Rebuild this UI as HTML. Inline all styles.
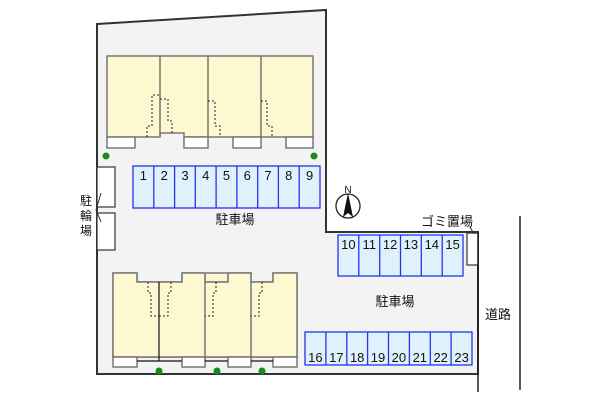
<!DOCTYPE html>
<html><head><meta charset="utf-8"><style>
html,body{margin:0;padding:0;background:#fff;width:600px;height:400px;overflow:hidden}
svg text{font-family:"Liberation Sans","Noto Sans CJK JP",sans-serif;fill:#111}
</style></head><body>
<svg width="600" height="400" viewBox="0 0 600 400" xmlns="http://www.w3.org/2000/svg">
<polygon points="97,24 326,10 326,232 478,232 478,374 97,374" fill="#f3f3f3" stroke="#333" stroke-width="2"/>
<!-- top building -->
<g stroke="#777" stroke-width="1.5">
<polygon points="107,56 313,56 313,137 184,137 184,133 160,133 160,137 107,137" fill="#fdf8d0"/>
<line x1="160" y1="56" x2="160" y2="137"/>
<line x1="208" y1="56" x2="208" y2="137"/>
<line x1="261" y1="56" x2="261" y2="137"/>
<rect x="107" y="137" width="28" height="11" fill="#fff"/>
<rect x="184" y="137" width="24" height="11" fill="#fff"/>
<rect x="233" y="137" width="28" height="11" fill="#fff"/>
<rect x="286" y="137" width="27" height="11" fill="#fff"/>
</g>
<g fill="none" stroke="#222" stroke-width="1" stroke-dasharray="2,2">
<polyline points="147,137 147,126 152,126 152,95 160,95"/>
<polyline points="160,99 168,99 168,121 172,121 172,133"/>
<polyline points="208,101 215,101 215,126 220,126 220,137"/>
<polyline points="261,101 267,101 267,126 272,126 272,137"/>
</g>
<circle cx="106" cy="156" r="3.5" fill="#1a8a1a"/>
<circle cx="314" cy="156" r="3.5" fill="#1a8a1a"/>
<!-- parking 1-9 -->
<g fill="#dff2fc" stroke="#2233ee" stroke-width="1.3">
<rect x="133" y="166" width="187" height="42"/>
</g>
<g stroke="#2233ee" stroke-width="1.3">
<line x1="153.8" y1="166" x2="153.8" y2="208"/><line x1="174.6" y1="166" x2="174.6" y2="208"/>
<line x1="195.3" y1="166" x2="195.3" y2="208"/><line x1="216.1" y1="166" x2="216.1" y2="208"/>
<line x1="236.9" y1="166" x2="236.9" y2="208"/><line x1="257.7" y1="166" x2="257.7" y2="208"/>
<line x1="278.4" y1="166" x2="278.4" y2="208"/><line x1="299.2" y1="166" x2="299.2" y2="208"/>
</g>
<g font-size="13" text-anchor="middle">
<text x="143.4" y="180">1</text><text x="164.2" y="180">2</text><text x="185" y="180">3</text>
<text x="205.7" y="180">4</text><text x="226.5" y="180">5</text><text x="247.3" y="180">6</text>
<text x="268" y="180">7</text><text x="288.8" y="180">8</text><text x="309.6" y="180">9</text>
</g>
<text x="235" y="224" font-size="13" text-anchor="middle">駐車場</text>
<!-- bike -->
<rect x="97" y="167" width="18" height="40" fill="#fff" stroke="#333" stroke-width="1.2"/>
<rect x="97" y="213" width="18" height="37" fill="#fff" stroke="#333" stroke-width="1.2"/>
<polyline points="101,193 96,210 101,222" fill="none" stroke="#333" stroke-width="1"/>
<g font-size="12" text-anchor="middle"><text x="86" y="205">駐</text><text x="86" y="220">輪</text><text x="86" y="235">場</text></g>
<!-- compass -->
<circle cx="348" cy="206" r="12" fill="#fff" stroke="#222" stroke-width="1.3"/>
<polygon points="348,193 343,217 348,213 353,217" fill="#111"/>
<text x="348" y="193" font-size="10" text-anchor="middle">N</text>
<!-- lower building -->
<g stroke="#777" stroke-width="1.5">
<polygon points="113,273 137,273 137,282 182,282 182,273 228,273 228,282 205,282 205,273 205,273 251,273 251,282 273,282 273,273 297,273 297,357 113,357" fill="#fdf8d0"/>
<polygon points="113,273 137,273 137,282 182,282 182,273 205,273 205,282 228,282 228,273 251,273 251,282 273,282 273,273 297,273 297,357 113,357" fill="#fdf8d0"/>
<line x1="205" y1="282" x2="205" y2="361"/>
<line x1="251" y1="282" x2="251" y2="361"/>
<rect x="113" y="357" width="24" height="10" fill="#fff"/>
<rect x="182" y="357" width="23" height="10" fill="#fff"/>
<rect x="228" y="357" width="23" height="10" fill="#fff"/>
<rect x="273" y="357" width="24" height="10" fill="#fff"/>
</g>
<line x1="137" y1="361" x2="182" y2="361" stroke="#111" stroke-width="1.2"/>
<line x1="205" y1="361" x2="228" y2="361" stroke="#111" stroke-width="1.2"/>
<line x1="251" y1="361" x2="273" y2="361" stroke="#111" stroke-width="1.2"/>
<line x1="159" y1="282" x2="159" y2="361" stroke="#111" stroke-width="1.2"/>
<g fill="none" stroke="#222" stroke-width="1" stroke-dasharray="2,2">
<polyline points="148,282 148,293 151,293 151,316 159,316"/>
<polyline points="171,282 171,293 168,293 168,316 159,316"/>
<polyline points="216,282 216,293 213,293 213,316 205,316"/>
<polyline points="262,282 262,293 259,293 259,316 251,316"/>
</g>
<circle cx="159" cy="371" r="3.5" fill="#1a8a1a"/>
<circle cx="217" cy="371" r="3.5" fill="#1a8a1a"/>
<circle cx="262" cy="371" r="3.5" fill="#1a8a1a"/>
<!-- parking 10-15 -->
<rect x="338" y="235" width="125" height="41" fill="#dff2fc" stroke="#2233ee" stroke-width="1.3"/>
<g stroke="#2233ee" stroke-width="1.3">
<line x1="358.8" y1="235" x2="358.8" y2="276"/><line x1="379.7" y1="235" x2="379.7" y2="276"/>
<line x1="400.5" y1="235" x2="400.5" y2="276"/><line x1="421.3" y1="235" x2="421.3" y2="276"/>
<line x1="442.2" y1="235" x2="442.2" y2="276"/>
</g>
<g font-size="13" text-anchor="middle">
<text x="348.4" y="249">10</text><text x="369.3" y="249">11</text><text x="390.1" y="249">12</text>
<text x="410.9" y="249">13</text><text x="431.8" y="249">14</text><text x="452.6" y="249">15</text>
</g>
<text x="395" y="306" font-size="13" text-anchor="middle">駐車場</text>
<!-- parking 16-23 -->
<rect x="305" y="332" width="167" height="33" fill="#dff2fc" stroke="#2233ee" stroke-width="1.3"/>
<g stroke="#2233ee" stroke-width="1.3">
<line x1="325.9" y1="332" x2="325.9" y2="365"/><line x1="346.8" y1="332" x2="346.8" y2="365"/>
<line x1="367.6" y1="332" x2="367.6" y2="365"/><line x1="388.5" y1="332" x2="388.5" y2="365"/>
<line x1="409.4" y1="332" x2="409.4" y2="365"/><line x1="430.3" y1="332" x2="430.3" y2="365"/>
<line x1="451.1" y1="332" x2="451.1" y2="365"/>
</g>
<g font-size="13" text-anchor="middle">
<text x="315.4" y="362">16</text><text x="336.3" y="362">17</text><text x="357.2" y="362">18</text>
<text x="378" y="362">19</text><text x="398.9" y="362">20</text><text x="419.8" y="362">21</text>
<text x="440.7" y="362">22</text><text x="461.6" y="362">23</text>
</g>
<!-- trash -->
<rect x="467" y="233" width="11" height="32" fill="#fff" stroke="#333" stroke-width="1.2"/>
<line x1="470" y1="227" x2="474" y2="234" stroke="#333" stroke-width="1"/>
<text x="447" y="226" font-size="13" text-anchor="middle">ゴミ置場</text>
<!-- road -->
<line x1="478" y1="232" x2="478" y2="392" stroke="#222" stroke-width="1.5"/>
<line x1="520" y1="216" x2="520" y2="390" stroke="#222" stroke-width="1.5"/>
<text x="498" y="319" font-size="13" text-anchor="middle">道路</text>
</svg>
</body></html>
